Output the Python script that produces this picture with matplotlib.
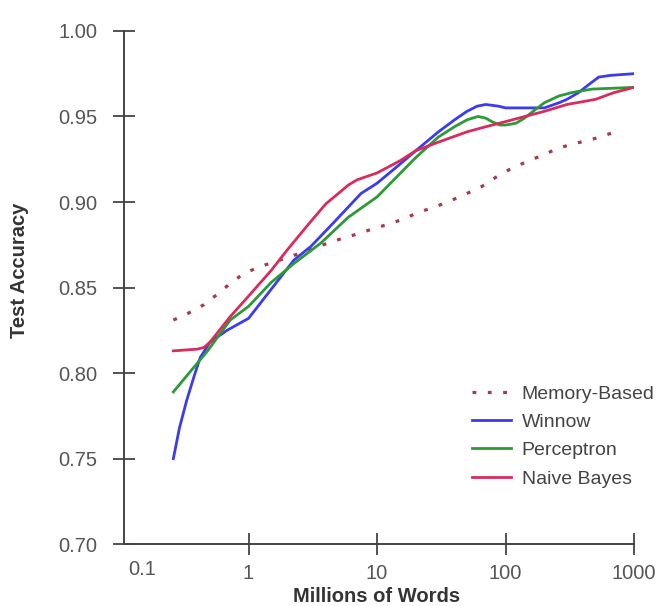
import numpy as np
import matplotlib
matplotlib.use("Agg")
import matplotlib.pyplot as plt
from matplotlib.ticker import NullLocator, FixedLocator, FixedFormatter

# learning curves (x = millions of words)
mem_x = [0.26, 0.34, 0.45, 0.57, 0.71, 0.91, 1.2, 2.1, 3.8, 5.0, 6.8, 9, 12.2, 16, 21, 28, 38, 50, 65, 82,
         107, 140, 188, 250, 330, 445, 590, 800]
mem_y = [0.831, 0.835, 0.840, 0.846, 0.852, 0.858, 0.862, 0.868, 0.875, 0.878, 0.881, 0.884, 0.887, 0.890,
         0.894, 0.897, 0.901, 0.905, 0.909, 0.914, 0.919, 0.923, 0.927, 0.931, 0.934, 0.936, 0.939, 0.942]

win_x = [0.26, 0.29, 0.33, 0.38, 0.42, 0.50, 0.68, 1.0, 1.5, 2.25, 3.05, 4.6, 7.5, 10, 15, 20, 30, 40, 50,
         60, 70, 88, 100, 140, 200, 260, 300, 370, 450, 530, 650, 1000]
win_y = [0.750, 0.768, 0.784, 0.799, 0.809, 0.818, 0.825, 0.832, 0.849, 0.866, 0.874, 0.888, 0.905, 0.911,
         0.922, 0.930, 0.941, 0.948, 0.953, 0.956, 0.957, 0.956, 0.955, 0.955, 0.955, 0.958, 0.960, 0.964,
         0.969, 0.973, 0.974, 0.975]

per_x = [0.26, 0.48, 0.72, 1.0, 1.5, 2.25, 3.65, 5.95, 10, 20, 30, 40, 50, 61, 70, 78, 90, 100, 120, 140,
         170, 200, 260, 330, 470, 1000]
per_y = [0.789, 0.813, 0.831, 0.839, 0.853, 0.864, 0.876, 0.891, 0.903, 0.926, 0.938, 0.944, 0.948, 0.950,
         0.949, 0.947, 0.945, 0.945, 0.946, 0.949, 0.954, 0.958, 0.962, 0.964, 0.966, 0.967]

nb_x = [0.26, 0.4, 0.45, 0.5, 0.72, 1.0, 1.5, 2, 3, 4, 5, 6, 7, 10, 15, 20, 30, 50, 70, 100, 200, 300, 500,
        700, 1000]
nb_y = [0.813, 0.814, 0.815, 0.818, 0.833, 0.845, 0.860, 0.872, 0.888, 0.899, 0.905, 0.910, 0.913, 0.917,
        0.924, 0.930, 0.935, 0.941, 0.944, 0.947, 0.953, 0.957, 0.960, 0.964, 0.967]

y_ticks = [0.70, 0.75, 0.80, 0.85, 0.90, 0.95, 1.00]
x_ticks = [1, 10, 100, 1000]

plt.rcParams["font.family"] = ["Liberation Sans", "DejaVu Sans"]

fig = plt.figure(figsize=(6.62, 6.06), dpi=100)
ax = fig.add_axes([0.187, 0.102, 0.771, 0.847])

ax.plot(mem_x, mem_y, color="#a53c4c", lw=2.3, dashes=(1.2, 3.6), label="Memory-Based")
ax.plot(win_x, win_y, color="#3b3bef", lw=2.0, label="Winnow")
ax.plot(per_x, per_y, color="#2c9a35", lw=2.0, label="Perceptron")
ax.plot(nb_x, nb_y, color="#d82c5c", lw=2.0, label="Naive Bayes")

ax.set_xscale("log")
ax.set_xlim(0.107, 1000)
ax.set_ylim(0.70, 1.00)
ax.xaxis.set_major_locator(FixedLocator(x_ticks))
ax.xaxis.set_major_formatter(FixedFormatter([str(t) for t in x_ticks]))
ax.xaxis.set_minor_locator(NullLocator())
ax.set_yticks(y_ticks)
ax.set_yticklabels([f"{t:.2f}" for t in y_ticks])

for s in ("top", "right"):
    ax.spines[s].set_visible(False)
for s in ("left", "bottom"):
    ax.spines[s].set_color("#444444")
    ax.spines[s].set_linewidth(1.4)

ax.tick_params(axis="y", direction="inout", length=16, width=1.3, color="#444444",
               labelsize=14.5, labelcolor="#555555", pad=11)
ax.tick_params(axis="x", direction="inout", length=16, width=1.3, color="#444444",
               labelsize=14.5, labelcolor="#555555", pad=6)

# the 0.1 label sits just inside the axis start, with no tick
ax.text(0.15, -0.049, "0.1", transform=ax.get_xaxis_transform(), ha="center", va="center",
        fontsize=14.5, color="#555555")

ax.set_xlabel("Millions of Words", fontsize=14.5, fontweight="bold", color="#333333", va="baseline")
ax.set_ylabel("Test Accuracy", fontsize=14.5, fontweight="bold", color="#333333")
ax.xaxis.set_label_coords(0.496, -0.112)
ax.yaxis.set_label_coords(-0.186, 0.533)

ax.legend(loc="upper left", bbox_to_anchor=(472 / 662, 1 - 385 / 606), bbox_transform=fig.transFigure,
          frameon=False, fontsize=14, handlelength=2.0, handletextpad=0.55, labelspacing=0.55,
          borderpad=0, borderaxespad=0, labelcolor="#444444")

fig.savefig("out.png", dpi=100)
